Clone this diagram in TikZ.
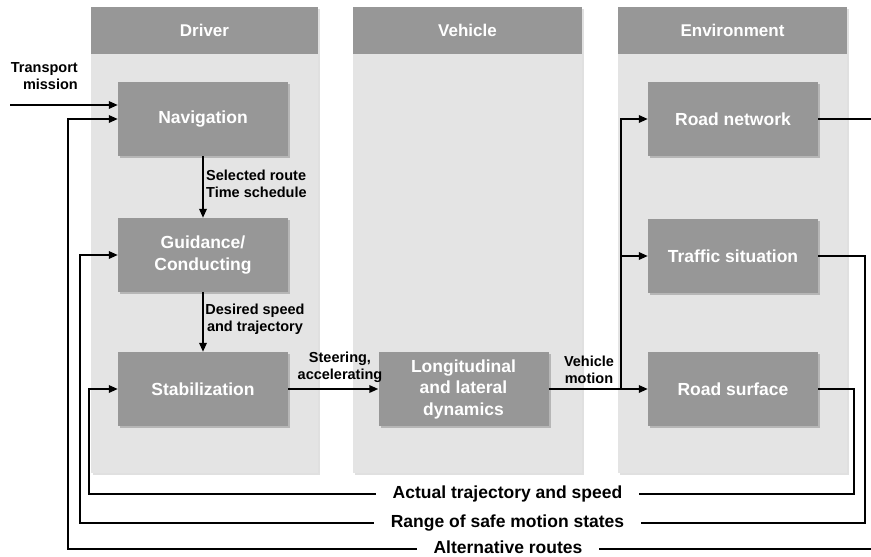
\documentclass[tikz,border=0pt]{standalone}
\usepackage{fontspec}
\setmainfont{Liberation Sans}
\usetikzlibrary{arrows.meta,shadows}
\definecolor{boxgray}{HTML}{979797}
\definecolor{panelgray}{HTML}{E4E4E4}
\tikzset{
  panel/.style={fill=panelgray, draw=none, drop shadow={shadow xshift=2pt, shadow yshift=-2pt, fill=black, opacity=0.12}},
  header/.style={fill=boxgray, draw=none, text=white, font=\bfseries\fontsize{17}{20}\selectfont, inner sep=0pt},
  blk/.style={fill=boxgray, draw=none, text=white, minimum width=170pt, minimum height=74pt, inner sep=0pt, align=center,
    font=\bfseries\fontsize{17.5}{21.5}\selectfont,
    drop shadow={shadow xshift=2pt, shadow yshift=-2pt, fill=black, opacity=0.2}},
  lbl/.style={font=\bfseries\fontsize{14.5}{17}\selectfont, inner sep=0pt, align=center},
  biglbl/.style={font=\bfseries\fontsize{17.5}{20}\selectfont, fill=white, inner sep=0pt, inner xsep=2pt},
  conn/.style={line width=1.8pt, draw=black},
  arr/.style={conn, -{Triangle[length=9pt,width=7.5pt]}},
}
\begin{document}
\begin{tikzpicture}[x=1pt,y=-1pt]
\useasboundingbox (0,0) rectangle (871,557);
% panels
\path[panel] (91,7) rectangle (318,473);
\path[panel] (353,7) rectangle (582,473);
\path[panel] (618,7) rectangle (847,473);
\node[header, minimum width=227pt, minimum height=47pt] (hd) at (204.5,30.5) {Driver};
\node[header, minimum width=229pt, minimum height=47pt] (hv) at (467.5,30.5) {Vehicle};
\node[header, minimum width=229pt, minimum height=47pt] (he) at (732.5,30.5) {Environment};
% blocks
\node[blk] (nav) at (203,119) {Navigation};
\node[blk] (guid) at (203,255) {Guidance/\\Conducting};
\node[blk] (stab) at (203,389) {Stabilization};
\node[blk] (lon) at (463.5,389) {Longitudinal\\and lateral\\dynamics};
\node[blk] (rn) at (733,119) {Road network};
\node[blk] (ts) at (733,256) {Traffic situation};
\node[blk] (rs) at (733,389) {Road surface};
% coordinates
\coordinate (tm) at (10,105);
\coordinate (br) at (621,389);
\coordinate (rnout) at (871,119);
\coordinate (altin) at (871,549);
% input
\node[lbl, anchor=east] (tml) at (78,76) {\hfill Transport\\\hfill mission};
\draw[arr] (tm) -- (tm -| nav.west);
% driver chain
\draw[arr] (nav.south) -- (guid.north);
\node[lbl, anchor=west, align=left] (l1) at (206,183.5) {Selected route\\Time schedule};
\draw[arr] (guid.south) -- (stab.north);
\node[lbl] (l2) at (255,319) {Desired speed\\and trajectory};
\draw[arr] (stab.east) -- (lon.west);
\node[lbl] (l3) at (340,367.5) {Steering,\\accelerating};
\draw[arr] (lon.east) -- (rs.west);
\node[lbl] (l4) at (589,370) {Vehicle\\motion};
\draw[arr] (br) -- (br |- rn.west) -- (rn.west);
\draw[arr] (br |- ts.west) -- (ts.west);
% outputs / feedback
\draw[conn] (rn.east) -- (rnout);
\draw[arr] (rs.east) -- (854,389) -- (854,494) -- (89,494) -- (89,389) -- (stab.west);
\draw[arr] (ts.east) -- (865,256) -- (865,523) -- (80,523) -- (80,255) -- (guid.west);
\draw[arr] (altin) -- (68,549) -- (68,119) -- (nav.west);
\node[biglbl, inner xsep=17pt] (fa) at (507.5,494) {Actual trajectory and speed};
\node[biglbl, inner xsep=17pt] (fr) at (507.5,523) {Range of safe motion states};
\node[biglbl, inner xsep=17pt] (fl) at (508,547) {Alternative routes};
\end{tikzpicture}
\end{document}
